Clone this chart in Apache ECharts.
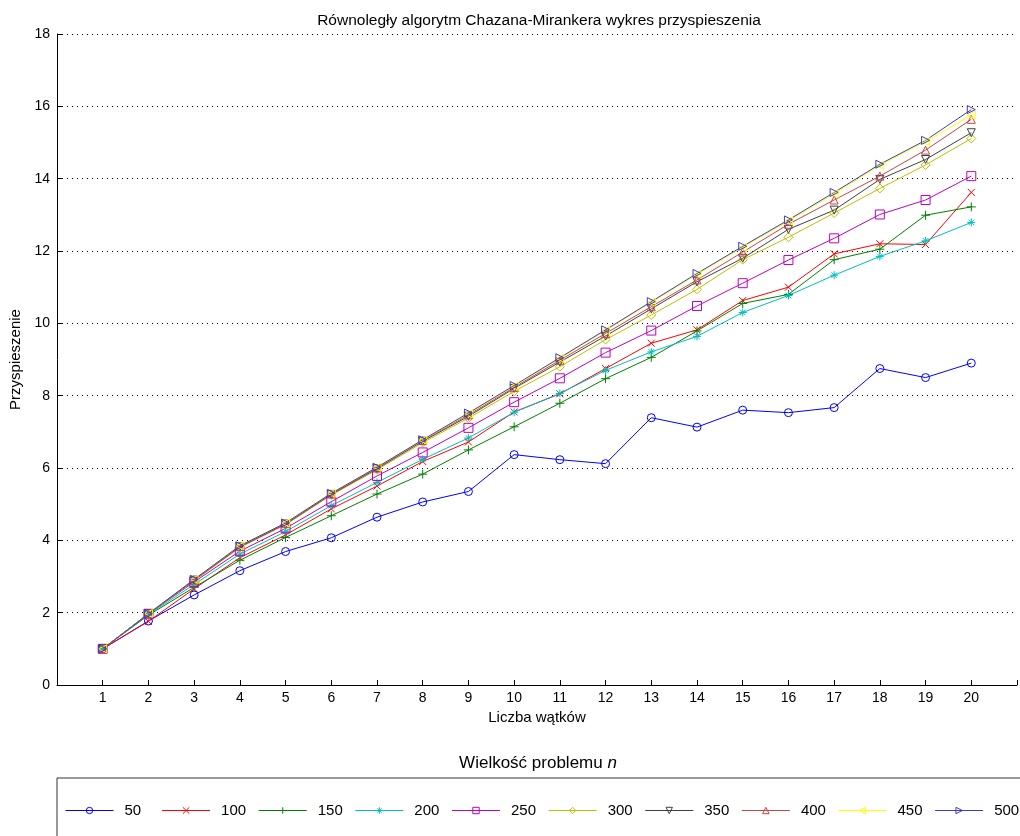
<!DOCTYPE html>
<html>
<head>
<meta charset="utf-8">
<script src="https://cdn.jsdelivr.net/npm/echarts@6/dist/echarts.min.js"></script>
<style>
html,body{margin:0;padding:0;background:#fff;}
#chart{width:1020px;height:836px;}
</style>
</head>
<body>
<div id="chart"></div>
<script>
// ---- data ----
var threads = [1,2,3,4,5,6,7,8,9,10,11,12,13,14,15,16,17,18,19,20];
var seriesNames = ['50','100','150','200','250','300','350','400','450','500'];
var s50  = [1.0,1.77,2.49,3.16,3.69,4.07,4.64,5.06,5.35,6.37,6.23,6.12,7.39,7.13,7.60,7.53,7.67,8.75,8.50,8.90];
var s100 = [1.0,1.76,2.66,3.52,4.15,4.87,5.50,6.18,6.72,7.55,8.05,8.75,9.45,9.82,10.63,11.00,11.92,12.20,12.18,13.62];
var s150 = [1.0,1.93,2.70,3.45,4.08,4.68,5.28,5.83,6.50,7.14,7.79,8.47,9.06,9.79,10.55,10.80,11.76,12.05,12.99,13.22];
var s200 = [1.0,1.95,2.78,3.62,4.24,4.96,5.60,6.24,6.83,7.54,8.06,8.70,9.21,9.64,10.30,10.77,11.33,11.85,12.28,12.79];
var s250 = [1.0,1.97,2.85,3.70,4.33,5.07,5.78,6.43,7.11,7.82,8.48,9.19,9.80,10.48,11.11,11.75,12.35,13.01,13.41,14.07];
var s300 = [1.0,1.97,2.88,3.80,4.43,5.25,5.95,6.70,7.38,8.12,8.80,9.55,10.23,10.94,11.76,12.38,13.05,13.73,14.38,15.11];
var s350 = [1.0,1.97,2.90,3.82,4.45,5.27,5.98,6.74,7.43,8.20,8.93,9.65,10.40,11.15,11.80,12.60,13.13,13.98,14.53,15.27];
var s400 = [1.0,1.97,2.90,3.83,4.46,5.28,6.00,6.76,7.47,8.23,8.98,9.72,10.46,11.20,11.97,12.74,13.41,14.07,14.79,15.64];
var s450 = [1.0,1.98,2.92,3.85,4.48,5.30,6.02,6.77,7.50,8.26,9.03,9.80,10.58,11.35,12.10,12.83,13.58,14.37,15.02,15.76];
var s500 = [1.0,1.97,2.92,3.85,4.48,5.30,6.02,6.78,7.52,8.28,9.05,9.82,10.60,11.38,12.13,12.86,13.62,14.40,15.06,15.91];
var yTicks = [0,2,4,6,8,10,12,14,16,18];
var titleText = 'Równoległy algorytm Chazana-Mirankera wykres przyspieszenia';
var xName = 'Liczba wątków';
var yName = 'Przyspieszenie';
var legendTitle = 'Wielkość problemu ';
var legendTitleVar = 'n';

// ---- styles ----
var allValues = [s50,s100,s150,s200,s250,s300,s350,s400,s450,s500];
var colors = ['#0000ff','#ff0000','#008000','#00bfbf','#bf00bf','#bfbf00','#404040','#cc4444','#ffff00','#3c3ccc'];
var symbols = [
  'circle',
  'path://M0,0L10,10M10,0L0,10',
  'path://M5,0L5,10M0,5L10,5',
  'path://M5,0L5,10M0,5L10,5M1.6,1.6L8.4,8.4M8.4,1.6L1.6,8.4',
  'rect',
  'diamond',
  'triangle',
  'triangle',
  'triangle',
  'triangle'
];
var rotations = [0,0,0,0,0,0,180,0,90,-90];
var sizes = [8,7,9,8,9,9,8,8,8,8];
var FONT = '"Liberation Sans", Arial, sans-serif';

var series = seriesNames.map(function(name, i){
  return {
    name: name,
    type: 'line',
    data: threads.map(function(t, j){ return [t, allValues[i][j]]; }),
    symbol: symbols[i],
    symbolSize: sizes[i],
    symbolRotate: rotations[i],
    showAllSymbol: true,
    lineStyle: {color: colors[i], width: 1},
    itemStyle: {color: 'rgba(255,255,255,0)', borderColor: colors[i], borderWidth: 1},
    emphasis: {disabled: true},
    animation: false
  };
});

var chart = echarts.init(document.getElementById('chart'), null, {renderer: 'canvas'});
chart.setOption({
  backgroundColor: '#fff',
  animation: false,
  textStyle: {fontFamily: FONT},
  title: [{
    text: titleText,
    left: 534, top: 8, textAlign: 'center',
    textStyle: {fontFamily: FONT, fontSize: 15.5, fontWeight: 'normal', color: '#000'}
  },{
    text: '{a|' + legendTitle + '}{b|' + legendTitleVar + '}',
    left: 533, top: 750, textAlign: 'center',
    textStyle: {
      fontFamily: FONT, fontSize: 17, fontWeight: 'normal', color: '#000',
      rich: {
        a: {fontFamily: FONT, fontSize: 17, color: '#000'},
        b: {fontFamily: FONT, fontSize: 17, color: '#000', fontStyle: 'italic'}
      }
    }
  }],
  grid: {left: 57, top: 34, right: -2, bottom: 151, containLabel: false},
  xAxis: {
    type: 'value', min: 0, max: 21, interval: 1,
    name: xName, nameLocation: 'middle', nameGap: 25,
    nameTextStyle: {fontFamily: FONT, fontSize: 15, color: '#000'},
    axisLine: {show: true, lineStyle: {color: '#000', width: 1}},
    axisTick: {show: true, inside: true, length: 5, lineStyle: {color: '#000'}},
    axisLabel: {
      fontFamily: FONT, fontSize: 14, color: '#000', margin: 6,
      formatter: function(v){ return threads.indexOf(v) >= 0 ? String(v) : ''; }
    },
    splitLine: {show: false}
  },
  yAxis: {
    type: 'value', min: yTicks[0], max: yTicks[yTicks.length-1], interval: 2,
    name: yName, nameLocation: 'middle', nameGap: 34,
    nameTextStyle: {fontFamily: FONT, fontSize: 15, color: '#000'},
    axisLine: {show: true, lineStyle: {color: '#000', width: 1}},
    axisTick: {show: true, inside: true, length: 5, lineStyle: {color: '#000'}},
    axisLabel: {fontFamily: FONT, fontSize: 14, color: '#000', margin: 7},
    splitLine: {show: true, lineStyle: {color: '#000', type: [1,4], width: 1}}
  },
  legend: {
    data: seriesNames,
    left: 57, top: 778,
    width: 1040,
    orient: 'horizontal',
    padding: [25, 60, 28, 8],
    itemWidth: 48, itemHeight: 8, itemGap: 12.1,
    borderColor: '#333', borderWidth: 1,
    backgroundColor: '#fff',
    selectedMode: false,
    lineStyle: {width: 1},
    itemStyle: {borderWidth: 1},
    formatter: function(name){
      return name.length < 3 ? name + '\u00a0\u00a0' : name;
    },
    textStyle: {fontFamily: FONT, fontSize: 15, color: '#000', padding: [0,0,0,6]}
  },
  series: series
});
</script>
</body>
</html>
